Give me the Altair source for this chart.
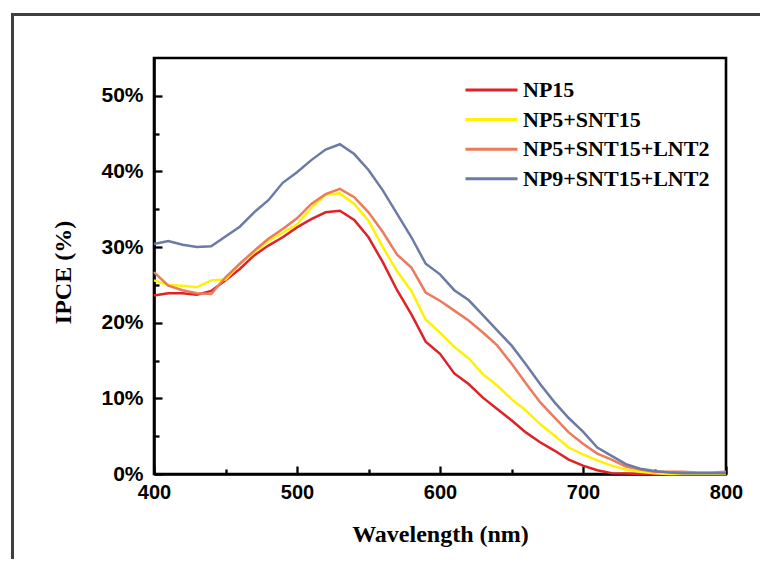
import altair as alt
import pandas as pd

wavelength = list(range(400, 801, 10))

np15 = [23.6, 23.9, 23.9, 23.7, 24.2, 25.6, 27.1, 28.9, 30.2, 31.3,
        32.6, 33.7, 34.6, 34.8, 33.6, 31.3, 28.0, 24.3, 21.1, 17.5,
        15.9, 13.3, 11.9, 10.1, 8.6, 7.1, 5.5, 4.2, 3.1, 1.9,
        1.1, 0.5, 0.1, 0.05, 0.0, 0.0, 0.0, 0.0, 0.0, 0.0, 0.0]
np5_snt15 = [25.6, 25.0, 24.9, 24.7, 25.6, 25.7, 27.8, 29.3, 30.8, 31.9,
             33.0, 35.2, 36.9, 37.1, 35.7, 33.5, 30.0, 26.8, 24.2, 20.4,
             18.7, 16.8, 15.3, 13.2, 11.7, 9.9, 8.4, 6.6, 5.1, 3.5,
             2.6, 1.8, 1.1, 0.6, 0.3, 0.1, 0.0, 0.0, 0.0, 0.0, 0.0]
np5_snt15_lnt2 = [26.7, 24.9, 24.3, 23.9, 23.8, 26.0, 27.8, 29.5, 31.1, 32.4,
                  33.8, 35.7, 37.0, 37.7, 36.6, 34.6, 32.0, 29.0, 27.3, 24.0,
                  22.9, 21.6, 20.3, 18.7, 17.0, 14.6, 12.0, 9.5, 7.5, 5.5,
                  4.0, 2.7, 1.9, 1.0, 0.6, 0.3, 0.3, 0.3, 0.2, 0.2, 0.3]
np9_snt15_lnt2 = [30.4, 30.8, 30.3, 30.0, 30.1, 31.4, 32.7, 34.6, 36.2, 38.5,
                  39.9, 41.5, 42.9, 43.6, 42.3, 40.2, 37.5, 34.4, 31.3, 27.8,
                  26.4, 24.3, 23.0, 21.0, 19.0, 17.0, 14.5, 11.9, 9.5, 7.4,
                  5.6, 3.5, 2.4, 1.3, 0.7, 0.4, 0.2, 0.1, 0.1, 0.1, 0.1]

series_names = ["NP15", "NP5+SNT15", "NP5+SNT15+LNT2", "NP9+SNT15+LNT2"]
series_colors = ["#DC2328", "#FFF200", "#EC7A5C", "#6B7BA3"]
series_values = [np15, np5_snt15, np5_snt15_lnt2, np9_snt15_lnt2]

x_major = [400, 500, 600, 700, 800]
x_minor = [450, 550, 650, 750]
y_major = [0, 10, 20, 30, 40, 50]
y_minor = [5, 15, 25, 35, 45]

rows = []
for name, vals in zip(series_names, series_values):
    for w, v in zip(wavelength, vals):
        rows.append({"wavelength": w, "ipce": v, "series": name})
df = pd.DataFrame(rows)

W, H = 572, 416

xscale = alt.Scale(domain=[400, 800], nice=False)
yscale = alt.Scale(domain=[0, 55], nice=False)

lines = alt.Chart(df).mark_line(strokeWidth=2.5).encode(
    x=alt.X("wavelength:Q", scale=xscale,
            axis=alt.Axis(values=x_major, tickSize={"expr": "-8"}, tickWidth=2.3,
                          tickColor="black", domainColor="black", domainWidth=2.6,
                          labelFont="Liberation Sans", labelFontWeight="bold",
                          labelFontSize=20, labelColor="black", labelPadding=16,
                          labelFlush=False, grid=False,
                          title="Wavelength (nm)", titleFont="Liberation Serif",
                          titleFontSize=24, titleFontWeight="bold",
                          titleColor="black", titlePadding=20)),
    y=alt.Y("ipce:Q", scale=yscale,
            axis=alt.Axis(values=y_major, tickSize={"expr": "-8"}, tickWidth=2.3,
                          tickColor="black", domainColor="black", domainWidth=2.6,
                          labelFont="Liberation Sans", labelFontWeight="bold",
                          labelFontSize=21, labelColor="black", labelPadding=19,
                          labelExpr="datum.value + '%'", grid=False,
                          title="IPCE (%)", titleFont="Liberation Serif",
                          titleFontSize=24, titleFontWeight="bold",
                          titleColor="black", titlePadding=25, titleY=214)),
    color=alt.Color("series:N",
                    scale=alt.Scale(domain=series_names, range=series_colors),
                    sort=series_names,
                    legend=alt.Legend(orient="none", legendX=310, legendY=22,
                                      title=None, symbolType="stroke",
                                      symbolSize=2704, symbolStrokeWidth=3,
                                      clipHeight=20, rowPadding=7.6,
                                      labelFont="Liberation Serif",
                                      labelFontWeight="bold", labelFontSize=22,
                                      labelColor="black", labelOffset=4,
                                      labelLimit=0, padding=0)),
)

minor = alt.Chart(df).mark_line(opacity=0).encode(
    x=alt.X("wavelength:Q", scale=xscale,
            axis=alt.Axis(orient="top", offset=-H, values=x_minor, labels=False,
                          domain=False, tickSize=5, tickWidth=2.3,
                          tickColor="black", grid=False, title=None)),
    y=alt.Y("ipce:Q", scale=yscale,
            axis=alt.Axis(orient="right", offset=-W, values=y_minor, labels=False,
                          domain=False, tickSize=5, tickWidth=2.3,
                          tickColor="black", grid=False, title=None)),
)

frame = alt.Chart(alt.Data(values=[{"k": 1}])).mark_rect(
    fillOpacity=0, stroke="#3f3f3f", strokeWidth=3
).encode(
    x=alt.value(-141.5), x2=alt.value(640), y=alt.value(-43.5), y2=alt.value(560)
)

chart = alt.layer(frame, lines, minor).resolve_axis(
    x="independent", y="independent"
).properties(
    width=W, height=H,
    autosize=alt.AutoSizeParams(type="none"),
    padding={"left": 146, "top": 50, "right": 34, "bottom": 85},
).configure_view(stroke="black", strokeWidth=2.6)

chart.save("out.html", embed_options={"renderer": "svg", "actions": False})
